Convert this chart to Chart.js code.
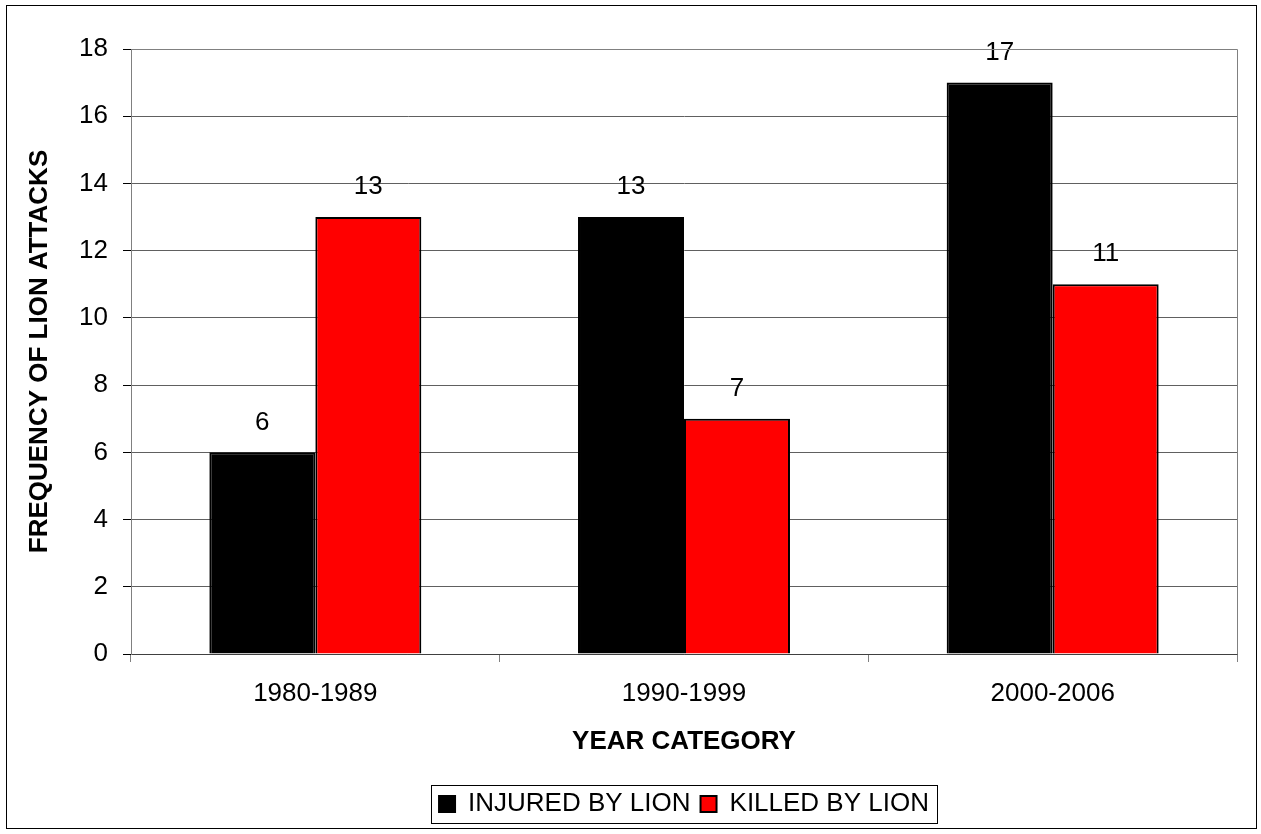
<!DOCTYPE html>
<html>
<head>
<meta charset="utf-8">
<script src="https://cdn.jsdelivr.net/npm/chart.js@4/dist/chart.umd.min.js"></script>
<style>
  html, body { margin: 0; padding: 0; background: #fff; }
  #wrap { width: 1261px; height: 834px; }
</style>
</head>
<body>
<div id="wrap"><canvas id="c" width="1261" height="834"></canvas></div>
<script>
const categories = ["1980-1989", "1990-1999", "2000-2006"];
const injured = [6, 13, 17];
const killed = [13, 7, 11];
const seriesNames = ["INJURED BY LION", "KILLED BY LION"];
const yTicksMax = 18;
const yTickStep = 2;

const FONT = '"Liberation Sans", Arial, sans-serif';
const FS = 26;

const bgPlugin = {
  id: 'bgAndFrame',
  beforeDraw(chart) {
    const ctx = chart.ctx;
    ctx.save();
    ctx.fillStyle = '#ffffff';
    ctx.fillRect(0, 0, chart.width, chart.height);
    ctx.restore();
  },
  afterDraw(chart) {
    const ctx = chart.ctx;
    ctx.save();
    ctx.strokeStyle = '#000000';
    ctx.lineWidth = 1;
    ctx.strokeRect(6.5, 5.5, 1250, 823);
    const a = chart.chartArea;
    ctx.strokeStyle = '#808080';
    ctx.beginPath();
    ctx.moveTo(Math.round(a.left) + 0.5, Math.round(a.top) + 0.5);
    ctx.lineTo(Math.round(a.right) + 0.5, Math.round(a.top) + 0.5);
    ctx.lineTo(Math.round(a.right) + 0.5, Math.round(a.bottom) + 0.5);
    ctx.stroke();
    const lg = chart.legend;
    if (lg && lg.legendHitBoxes && lg.legendHitBoxes.length) {
      const hb = lg.legendHitBoxes;
      const l = hb[0].left - 8;
      const r = hb[hb.length - 1].left + hb[hb.length - 1].width + 8;
      const cy = hb[0].top + hb[0].height / 2;
      ctx.strokeStyle = '#000000';
      ctx.strokeRect(Math.round(l) + 0.5, Math.round(cy - 19) + 0.5, Math.round(r - l), 38);
    }
    ctx.restore();
  }
};

const labelPlugin = {
  id: 'valueLabels',
  afterDatasetsDraw(chart) {
    const ctx = chart.ctx;
    ctx.save();
    ctx.font = FS + 'px ' + FONT;
    ctx.fillStyle = '#000000';
    ctx.textAlign = 'center';
    ctx.textBaseline = 'middle';
    chart.data.datasets.forEach((ds, di) => {
      const meta = chart.getDatasetMeta(di);
      meta.data.forEach((bar, i) => {
        ctx.fillText(String(ds.data[i]), bar.x, bar.y - 30);
      });
    });
    ctx.restore();
  }
};

new Chart(document.getElementById('c'), {
  type: 'bar',
  data: {
    labels: categories,
    datasets: [
      { label: seriesNames[0], data: injured, backgroundColor: '#000000', borderColor: '#000000', borderWidth: 2 },
      { label: seriesNames[1], data: killed, backgroundColor: '#ff0000', borderColor: '#000000', borderWidth: 2 }
    ]
  },
  options: {
    responsive: false,
    animation: false,
    devicePixelRatio: 1,
    layout: { padding: { top: 49, right: 24, left: 0, bottom: 7 } },
    datasets: { bar: { categoryPercentage: 0.575, barPercentage: 1.0 } },
    plugins: {
      tooltip: { enabled: false },
      legend: {
        position: 'bottom',
        fullSize: false,
        labels: {
          font: { family: FONT, size: FS },
          color: '#000000',
          boxWidth: 16,
          boxHeight: 16,
          padding: 10
        }
      }
    },
    scales: {
      x: {
        offset: true,
        grid: { offset: true, drawOnChartArea: false, tickLength: 8, color: '#808080', tickColor: '#808080' },
        border: { color: '#404040' },
        ticks: { font: { family: FONT, size: FS }, color: '#000000', padding: 16 },
        title: { display: true, text: 'YEAR CATEGORY', font: { family: FONT, size: FS, weight: 'bold' }, color: '#000000', padding: { top: 16, bottom: 24 } },
        afterFit(scale) { scale.height = 127; }
      },
      y: {
        min: 0,
        max: yTicksMax,
        ticks: { stepSize: yTickStep, font: { family: FONT, size: FS }, color: '#000000', padding: 15 },
        grid: { color: '#606060', tickColor: '#000000', tickLength: 8 },
        border: { color: '#808080' },
        title: { display: true, text: 'FREQUENCY OF LION ATTACKS', font: { family: FONT, size: FS, weight: 'bold' }, color: '#000000', padding: { top: 24, bottom: 0 } },
        afterFit(scale) { scale.width = 131; }
      }
    }
  },
  plugins: [bgPlugin, labelPlugin]
});
</script>
</body>
</html>
